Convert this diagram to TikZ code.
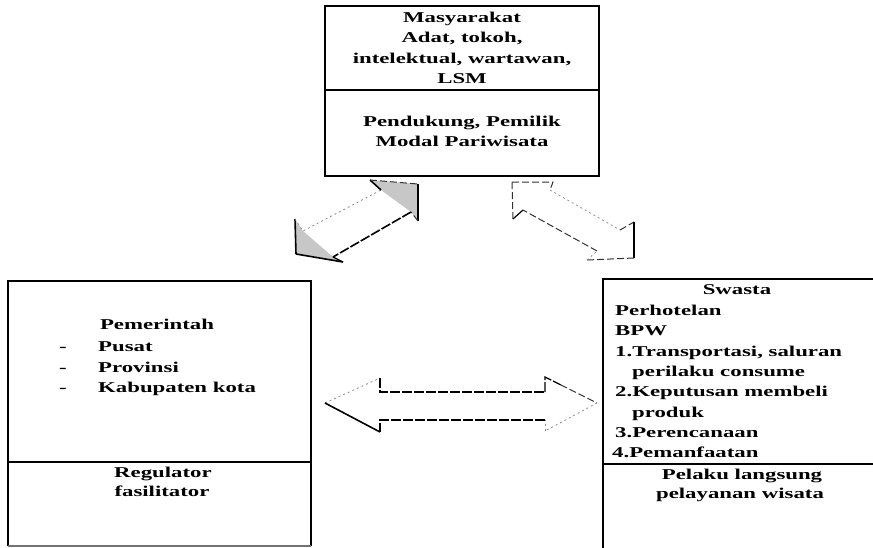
\documentclass[tikz,border=0pt]{standalone}
\usepackage{fontspec}
\usetikzlibrary{calc}
\newfontfamily\boxfont[FakeStretch=1.52]{Liberation Serif}
\tikzset{
  frame/.style={draw=black, line width=2pt, inner sep=0pt},
  divider/.style={draw=black, line width=1.8pt},
  txt/.style={anchor=base, inner sep=0pt, font=\boxfont\bfseries\fontsize{15}{20}\selectfont},
  ltxt/.style={txt, anchor=base west},
  edge/.style={draw=black!80, line width=1pt, dash pattern=on 7pt off 3pt},
  darkedge/.style={draw=black, line width=1.6pt, dash pattern=on 10pt off 2pt},
  faintedge/.style={draw=black!45, line width=0.8pt, dash pattern=on 2pt off 3pt},
}
\begin{document}
\begin{tikzpicture}[x=1pt,y=-1pt]
\useasboundingbox (0,0) rectangle (873,547);
\clip (0,0) rectangle (873,547);
\fill[white] (0,0) rectangle (873,547);

% ---- Masyarakat box ----
\node[frame, minimum width=274pt, minimum height=170pt] (masy) at (462,91) {};
\draw[divider] (masy.west |- 0,90) -- (masy.east |- 0,90);
\node[txt] (m1) at (462,22) {Masyarakat};
\node[txt] (m2) at (462,42) {Adat, tokoh,};
\node[txt] (m3) at (462,63) {intelektual, wartawan,};
\node[txt] (m4) at (462,83) {LSM};
\node[txt] (m5) at (462,126) {Pendukung, Pemilik};
\node[txt] (m6) at (462,146) {Modal Pariwisata};

% ---- Pemerintah box ----
\coordinate (pTL) at (8,281);
\coordinate (pTR) at (311,281);
\coordinate (pBL) at (8,546);
\coordinate (pBR) at (311,546);
\draw[line width=2pt] (pBL) -- (pTL) -- (pTR) -- (pBR);
\draw[black!55, line width=1.2pt] (pBL) -- (pBR);
\draw[divider] (8,462) -- (311,462);
\node[txt] (g0) at (157,329) {Pemerintah};
\node[txt] (d1) at (63,351) {-};
\node[txt] (d2) at (63,372) {-};
\node[txt] (d3) at (63,392) {-};
\node[ltxt] (g1) at (98,351) {Pusat};
\node[ltxt] (g2) at (98,372) {Provinsi};
\node[ltxt] (g3) at (98,392) {Kabupaten kota};
\node[txt] (g4) at (163,477) {Regulator};
\node[txt] (g5) at (162,496) {fasilitator};

% ---- Swasta box ----
\coordinate (sTL) at (603,279);
\coordinate (sTR) at (890,279);
\coordinate (sBL) at (603,560);
\draw[line width=2pt] (sBL) -- (sTL) -- (sTR);
\draw[divider] (603,464) -- (890,464);
\node[txt] (s0) at (737,294) {Swasta};
\node[ltxt] (s1) at (615,315) {Perhotelan};
\node[ltxt] (s2) at (615,335) {BPW};
\node[ltxt] (s3) at (615,356) {1.Transportasi, saluran};
\node[ltxt] (s4) at (632,376) {perilaku consume};
\node[ltxt] (s5) at (615,396) {2.Keputusan membeli};
\node[ltxt] (s6) at (632,417) {produk};
\node[ltxt] (s7) at (615,437) {3.Perencanaan};
\node[ltxt] (s8) at (612,457) {4.Pemanfaatan};
\node[txt] (s9) at (742,479) {Pelaku langsung};
\node[txt] (s10) at (740,498) {pelayanan wisata};

% ---- double arrow between Pemerintah and Swasta ----
\coordinate (hL)  at (325,403);
\coordinate (hLa) at (380,378);
\coordinate (hLb) at (380,392);
\coordinate (hRb) at (545,392);
\coordinate (hRa) at (545,377);
\coordinate (hR)  at (597,403);
\coordinate (hRc) at (545,431);
\coordinate (hRd) at (545,420);
\coordinate (hLd) at (380,420);
\coordinate (hLc) at (380,432);
\fill[white] (hL) -- (hLa) -- (hLb) -- (hRb) -- (hRa) -- (hR) -- (hRc) -- (hRd) -- (hLd) -- (hLc) -- cycle;
\draw[faintedge] (hL) -- (hLa);
\draw[darkedge, line width=1.3pt] (hLa) -- (hLb) -- (hRb);
\draw[darkedge, line width=1.3pt] (hRb) -- (hRa) -- ($(hRa)!0.3!(hR)$);
\draw[edge] ($(hRa)!0.3!(hR)$) -- (hR);
\draw[faintedge] (hR) -- (hRc);
\draw[faintedge] (hRc) -- (hRd);
\draw[darkedge, line width=1.3pt] (hRd) -- (hLd) -- (hLc);
\draw[black, line width=1.6pt] (hLc) -- (hL);

% ---- double arrow between Masyarakat and Pemerintah ----
\coordinate (dT1)  at (296,254);
\coordinate (dH1a) at (295,219);
\coordinate (dN1a) at (303,231);
\coordinate (dN2a) at (381,190);
\coordinate (dH2a) at (370,180);
\coordinate (dT2)  at (418,184);
\coordinate (dH2b) at (418,221);
\coordinate (dN2b) at (411,212);
\coordinate (dN1b) at (333,257);
\coordinate (dH1b) at (343,262);
\fill[white] (dT1) -- (dH1a) -- (dN1a) -- (dN2a) -- (dH2a) -- (dT2) -- (dH2b) -- (dN2b) -- (dN1b) -- (dH1b) -- cycle;
\fill[black!22] (dT1) -- (dH1a) -- (dN1a) -- (dN1b) -- (dH1b) -- cycle;
\fill[black!22] (dT2) -- (dH2a) -- (dN2a) -- (dN2b) -- (dH2b) -- cycle;
\draw[black, line width=1.6pt] (dT1) -- (dH1a);
\draw[faintedge] (dH1a) -- (dN1a) -- (dN2a);
\draw[black, line width=1.6pt] (dN2a) -- (dH2a);
\draw[edge] (dH2a) -- (dT2);
\draw[black, line width=1.6pt] (dT2) -- (dH2b);
\draw[edge] (dH2b) -- (dN2b);
\draw[darkedge] (dN2b) -- (dN1b);
\draw[black, line width=1.2pt] (dN1b) -- (dH1b);
\draw[black, line width=1.6pt] (dH1b) -- (dT1);

% ---- double arrow between Masyarakat and Swasta ----
\coordinate (rT1)  at (512,182);
\coordinate (rH1a) at (553,182);
\coordinate (rN1a) at (550,190);
\coordinate (rN2a) at (620,230);
\coordinate (rH2a) at (634,222);
\coordinate (rT2)  at (634,258);
\coordinate (rH2b) at (587,260);
\coordinate (rN2b) at (597,251);
\coordinate (rN1b) at (523,210);
\coordinate (rH1b) at (513,219);
\fill[white] (rT1) -- (rH1a) -- (rN1a) -- (rN2a) -- (rH2a) -- (rT2) -- (rH2b) -- (rN2b) -- (rN1b) -- (rH1b) -- cycle;
\draw[edge] (rT1) -- (rH1a) -- (rN1a);
\draw[faintedge] (rN1a) -- (rN2a);
\draw[edge] (rN2a) -- (rH2a);
\draw[black, line width=1.4pt] (rH2a) -- (rT2);
\draw[edge] (rT2) -- (rH2b);
\draw[faintedge] (rH2b) -- (rN2b);
\draw[edge] (rN2b) -- (rN1b);
\draw[black, line width=1.2pt] (rN1b) -- (rH1b);
\draw[edge] (rH1b) -- (rT1);
\end{tikzpicture}
\end{document}
